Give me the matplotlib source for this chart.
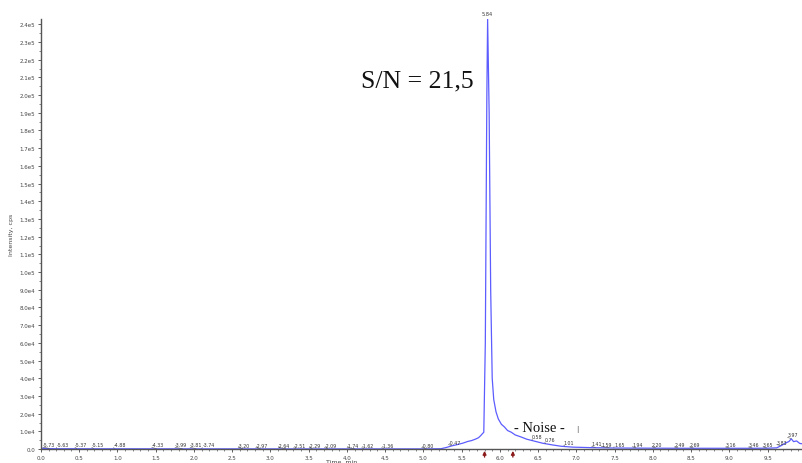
import numpy as np
import matplotlib
matplotlib.use("Agg")
from matplotlib import pyplot as plt
from matplotlib.ticker import MultipleLocator, FuncFormatter

# chromatogram trace (time in min, intensity in cps)
time_min = [0.00, 0.05, 0.11, 0.21, 0.47, 0.69, 0.96, 1.51, 1.85, 2.03, 2.10,
            2.64, 2.87, 3.20, 3.33, 3.55, 3.75, 4.10, 4.22, 4.48, 5.04, 5.23,
            5.30, 5.37, 5.45, 5.52, 5.58, 5.63, 5.68, 5.72, 5.75, 5.77, 5.79,
            5.81, 5.83, 5.84, 5.86, 5.88, 5.90, 5.92, 5.95, 5.98, 6.02, 6.06,
            6.10, 6.15, 6.20, 6.28, 6.35, 6.45, 6.56, 6.68, 6.80, 6.95, 7.20,
            7.50, 8.00, 8.50, 9.00, 9.30, 9.50, 9.62, 9.68, 9.74, 9.78, 9.81,
            9.84, 9.88, 9.92, 9.95]
intensity = [600, 300, 250, 200, 180, 160, 150, 140, 130, 130, 120,
             110, 110, 100, 100, 100, 100, 100, 100, 100, 100, 200,
             900, 1800, 2600, 3400, 4300, 4800, 5600, 6400, 7600, 8600, 9500,
             60000, 200000, 243000, 190000, 90000, 40000, 28000, 21000, 17000, 14000, 12500,
             10500, 9500, 8000, 6800, 5600, 4500, 3300, 2400, 1600, 1100, 800,
             600, 500, 450, 450, 450, 500, 700, 2000, 3500, 4300, 5800,
             4200, 4600, 3200, 3000]

peak_time = 5.84
peak_label = "5.84"

# relative-time labels printed along the baseline
noise_labels = ["-5.73", "-5.63", "-5.37", "-5.15", "-4.88", "-4.33", "-3.99",
                "-3.81", "-3.74", "-3.20", "-2.97", "-2.64", "-2.51", "-2.29",
                "-2.09", "-1.74", "-1.62", "-1.36", "-0.80", "-0.47", "0.58",
                "0.76", "1.01", "1.41", "1.59", "1.65", "1.94", "2.20", "2.49",
                "2.69", "3.16", "3.46", "3.65", "3.83", "3.97"]
# sideways nudge of each label (points) so crowded ones don't pile up
label_dx = [0, 4, 3, 3, 4, 1, -1,
            0, 5, 1, 1, -1, 3, 2,
            2, -1, 3, 3, 1, 2, 4,
            3, 3, 1, -2, 4, 1, 1, 1,
            1, 1, 1, 1, 1, 1]

x_ticks = [0.0, 0.5, 1.0, 1.5, 2.0, 2.5, 3.0, 3.5, 4.0, 4.5, 5.0, 5.5, 6.0,
           6.5, 7.0, 7.5, 8.0, 8.5, 9.0, 9.5]
noise_marks = [5.80, 6.17]

fig = plt.figure(figsize=(8.02, 4.64), dpi=100)
ax = fig.add_axes([0.051, 0.030, 0.949, 0.927])

ax.plot(time_min, intensity, color="#5c5cff", lw=0.9)
ax.set_xlim(0, 9.95)
ax.set_ylim(0, 2.43e5)

ax.spines["top"].set_visible(False)
ax.spines["right"].set_visible(False)
for s in ["left", "bottom"]:
    ax.spines[s].set_color("#555555")
    ax.spines[s].set_linewidth(1.0)

ax.set_xticks(x_ticks)
ax.xaxis.set_minor_locator(MultipleLocator(0.1))
ax.yaxis.set_major_locator(MultipleLocator(1e4))
ax.yaxis.set_minor_locator(MultipleLocator(5e3))


def yfmt(v, pos):
    if v <= 0:
        return "0.0"
    e = int(np.floor(np.log10(v)))
    return "%.1fe%d" % (v / 10 ** e, e)


ax.yaxis.set_major_formatter(FuncFormatter(yfmt))
ax.xaxis.set_major_formatter(FuncFormatter(lambda v, p: "%.1f" % v))
ax.tick_params(axis="both", which="major", labelsize=4, length=2.5, width=0.6,
               colors="#444444", pad=1.5)
ax.tick_params(axis="both", which="minor", length=1.5, width=0.5, colors="#555555")

ax.set_xlabel("Time, min", fontsize=4.5, color="#444444", labelpad=0)
ax.xaxis.set_label_coords(0.395, -0.022)
ax.set_ylabel("Intensity, cps", fontsize=4.5, color="#444444", labelpad=4)

# peak apex label
ax.text(peak_time, 2.43e5 + 1500, peak_label, fontsize=3.6, color="#333333",
        ha="center", va="bottom", clip_on=False)

# baseline labels with short leader lines
for lab, dx in zip(noise_labels, label_dx):
    t = peak_time + float(lab)
    yb = np.interp(t, time_min, intensity)
    ax.annotate(lab, xy=(t, yb + 150), xytext=(dx, 0.8),
                textcoords="offset points",
                fontsize=3.4, color="#333333", ha="center", va="bottom",
                arrowprops=dict(arrowstyle="-", lw=0.4, color="#555555",
                                shrinkA=0, shrinkB=0, relpos=(0, 0)))

# noise window markers below the axis
for m in noise_marks:
    ax.annotate("", xy=(m, -1000), xytext=(m, -4500),
                arrowprops=dict(arrowstyle="-|>", color="#8b1a1a", lw=1.0,
                                mutation_scale=5, shrinkA=0, shrinkB=0),
                annotation_clip=False)

ax.text(4.18, 2.08e5, "S/N = 21,5", fontsize=18.5, family="Liberation Serif",
        color="#111111", ha="left", va="center")
ax.text(6.18, 1.2e4, "- Noise -", fontsize=10.5, family="Liberation Serif",
        color="#111111", ha="left", va="center")
ax.text(7.01, 1.14e4, "|", fontsize=5, color="#555555", ha="center", va="center")

fig.savefig("out.png", dpi=100)
